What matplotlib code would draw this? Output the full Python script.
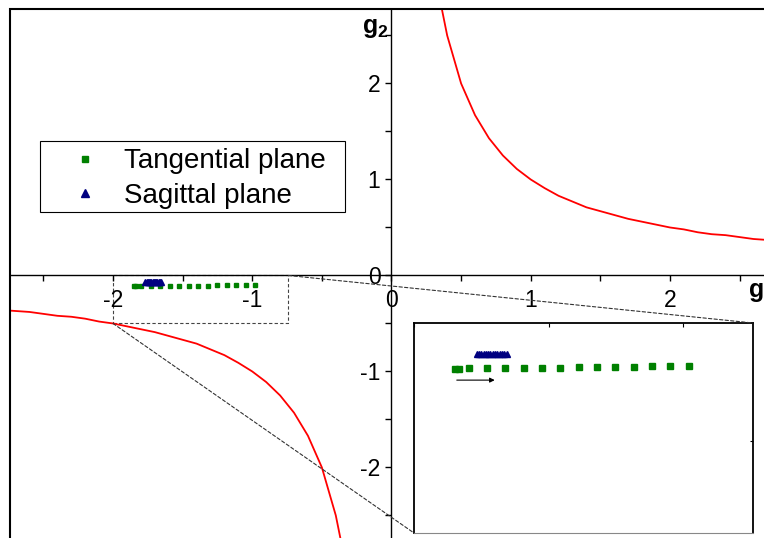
import numpy as np
import matplotlib
matplotlib.use("Agg")
import matplotlib.pyplot as plt
from matplotlib.patches import Rectangle, ConnectionPatch

plt.rcParams['font.family'] = ['Liberation Sans', 'DejaVu Sans']
plt.rcParams['mathtext.fontset'] = 'custom'
plt.rcParams['mathtext.rm'] = 'Liberation Sans'
plt.rcParams['mathtext.bf'] = 'Liberation Sans:bold'
plt.rcParams['axes.unicode_minus'] = False

# stability boundary g1*g2 = 1
upper_g1 = [0.35, 0.4, 0.5, 0.6, 0.7, 0.8, 0.9, 1.0, 1.1, 1.2, 1.3, 1.4, 1.5,
            1.6, 1.7, 1.8, 1.9, 2.0, 2.1, 2.2, 2.3, 2.4, 2.5, 2.6, 2.7]
upper_g2 = [2.86, 2.5, 2.0, 1.67, 1.43, 1.25, 1.11, 1.0, 0.91, 0.83, 0.77, 0.71, 0.67,
            0.63, 0.59, 0.56, 0.53, 0.5, 0.48, 0.45, 0.43, 0.42, 0.4, 0.38, 0.37]
lower_g1 = [-2.8, -2.7, -2.6, -2.5, -2.4, -2.3, -2.2, -2.1, -2.0, -1.9, -1.8, -1.7, -1.6,
            -1.5, -1.4, -1.3, -1.2, -1.1, -1.0, -0.9, -0.8, -0.7, -0.6, -0.5, -0.4, -0.35]
lower_g2 = [-0.36, -0.37, -0.38, -0.4, -0.42, -0.43, -0.45, -0.48, -0.5, -0.53, -0.56,
            -0.59, -0.63, -0.67, -0.71, -0.77, -0.83, -0.91, -1.0, -1.11, -1.25, -1.43,
            -1.67, -2.0, -2.5, -2.86]

tan_g1 = [-1.847, -1.833, -1.796, -1.728, -1.660, -1.593, -1.525, -1.457, -1.388,
          -1.320, -1.252, -1.183, -1.115, -1.047, -0.978]
tan_g2 = [-0.109, -0.109, -0.108, -0.108, -0.107, -0.107, -0.106, -0.106, -0.105,
          -0.105, -0.104, -0.104, -0.103, -0.103, -0.102]
sag_g1 = [-1.767, -1.758, -1.750, -1.741, -1.733, -1.724, -1.716, -1.707, -1.699,
          -1.690, -1.682, -1.673, -1.665, -1.656]
sag_g2 = [-0.073] * 14

x_ticks = [-2, -1, 0, 1, 2]
y_ticks = [-2, -1, 0, 1, 2]


def main():
    W, H = 764, 538
    fig = plt.figure(figsize=(W / 100, H / 100), dpi=100)
    # main axes runs past the right and bottom edge of the canvas
    left, top, right, bottom = 10, 9, 800, 560
    ax = fig.add_axes([left / W, (H - bottom) / H, (right - left) / W, (bottom - top) / H])
    ax.set_xlim(-2.74, 2.934)
    ax.set_ylim(-2.964, 2.776)

    for s in ['top', 'right']:
        ax.spines[s].set_visible(False)
    ax.spines['left'].set_position(('data', 0))
    ax.spines['bottom'].set_position(('data', 0))
    ax.spines['left'].set_linewidth(1.0)
    ax.spines['bottom'].set_linewidth(1.0)
    ax.add_patch(Rectangle((0, 0), 1, 1, transform=ax.transAxes, fill=False,
                           lw=1.5, ec='black', clip_on=False, zorder=5))

    ax.set_xticks(x_ticks)
    ax.set_yticks(y_ticks)
    ax.set_xticks([-2.5, -1.5, -0.5, 0.5, 1.5, 2.5], minor=True)
    ax.set_yticks([-2.5, -1.5, -0.5, 0.5, 1.5, 2.5], minor=True)
    ax.tick_params(which='both', direction='out', length=4.5, width=1.0, labelsize=16.5)
    ax.tick_params(axis='x', pad=5)

    ax.plot(upper_g1, upper_g2, color='red', lw=1.3)
    ax.plot(lower_g1, lower_g2, color='red', lw=1.3)
    ax.plot(tan_g1, tan_g2, ls='none', marker='s', ms=3, color='#008000',
            label='Tangential plane')
    ax.plot(sag_g1, sag_g2, ls='none', marker='^', ms=4, color='#000080',
            label='Sagittal plane')

    ax.text(-0.02, 2.53, r'$\mathbf{g}_\mathbf{2}$', fontsize=18, ha='right', va='baseline')
    ax.text(2.56, -0.224, r'$\mathbf{g}_\mathbf{1}$', fontsize=18, ha='left', va='baseline')

    # zoom box
    zx0, zx1, zy0, zy1 = -2.0, -0.74, -0.5, 0.0
    ax.add_patch(Rectangle((zx0, zy0), zx1 - zx0, zy1 - zy0, fill=False,
                           ls=(0, (3, 2)), lw=0.8, ec='#444444'))

    # legend: frame drawn separately
    ax.add_patch(Rectangle((40 / W, 1 - 212 / H), 305 / W, 71 / H,
                           transform=fig.transFigure, fill=True, fc='white',
                           ec='black', lw=0.8, clip_on=False, zorder=4))
    leg = ax.legend(loc='upper left', bbox_to_anchor=(57.5 / W, 1 - 148.5 / H),
                    bbox_transform=fig.transFigure, fontsize=20, frameon=False,
                    borderaxespad=0, borderpad=0, handlelength=2.0,
                    handletextpad=0.38, labelspacing=0.31, markerscale=1.4)
    leg.set_zorder(6)

    # inset
    il, it, ir, ib = 414, 323, 753, 533
    axins = fig.add_axes([il / W, (H - ib) / H, (ir - il) / W, (ib - it) / H])
    axins.set_xlim(zx0, zx1)
    axins.set_ylim(zy0, zy1)
    axins.plot(tan_g1, tan_g2, ls='none', marker='s', ms=4.5, color='#008000')
    axins.plot(sag_g1, sag_g2, ls='none', marker='^', ms=5, color='#000080')
    axins.annotate('', xy=(-1.70, -0.136), xytext=(-1.841, -0.136),
                   arrowprops=dict(arrowstyle='-|>', lw=0.8, color='black',
                                   mutation_scale=7, shrinkA=0, shrinkB=0))
    axins.set_xticks([-2.0, -1.5, -1.0])
    axins.set_yticks([-0.28])
    axins.tick_params(axis='x', which='both', direction='in', top=True, bottom=False,
                      labeltop=False, labelbottom=False, length=3)
    axins.tick_params(axis='y', which='both', direction='in', right=True, left=False,
                      labelleft=False, labelright=False, length=2)
    for s in ['top', 'left', 'right']:
        axins.spines[s].set_linewidth(1.3)
    axins.spines['bottom'].set_color('#888888')

    con1 = ConnectionPatch(xyA=(zx0, zy0), coordsA=ax.transData, xyB=(0, 0),
                           coordsB=axins.transAxes, ls=(0, (3, 2)), lw=0.8, color='#333333')
    con2 = ConnectionPatch(xyA=(zx1, zy1), coordsA=ax.transData, xyB=(1, 1),
                           coordsB=axins.transAxes, ls=(0, (3, 2)), lw=0.8, color='#333333')
    fig.add_artist(con1)
    fig.add_artist(con2)

    fig.savefig('out.png', dpi=100)


if __name__ == "__main__":
    main()
